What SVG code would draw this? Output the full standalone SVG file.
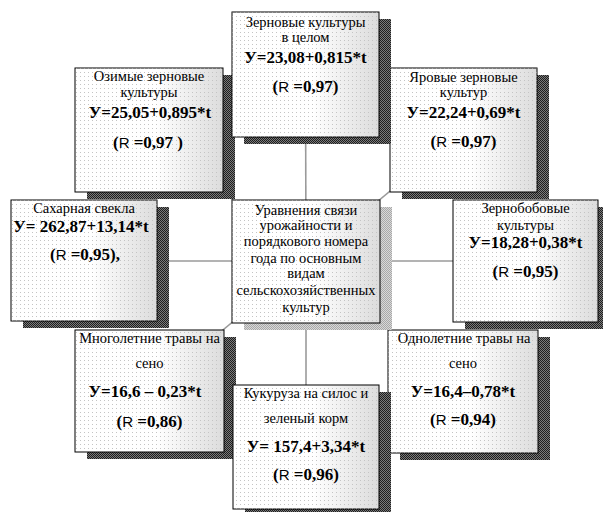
<svg xmlns="http://www.w3.org/2000/svg" width="603" height="512" viewBox="0 0 603 512">
<style>
.box{stroke:#000;stroke-width:1}
.bg{fill:url(#grad)}
.dots{fill:url(#dots);stroke:none}
.sh{fill:url(#chk)}
.shl{fill:url(#chkl)}
.t{font-family:'Liberation Serif','DejaVu Serif',serif;font-size:14.5px;text-anchor:middle;fill:#000}
.b{font-weight:bold;font-size:17px}
.r{font-family:'Liberation Sans','DejaVu Sans',sans-serif;font-weight:normal;font-size:15px}
.c{stroke:#9a9a9a;stroke-width:1.6;fill:none}
</style>
<defs>
<linearGradient id="grad" x1="0" y1="0" x2="1" y2="0">
<stop offset="0" stop-color="#ffffff"/>
<stop offset="0.55" stop-color="#ffffff"/>
<stop offset="1" stop-color="#dcdcdc"/>
</linearGradient>
<pattern id="dots" width="4" height="4" patternUnits="userSpaceOnUse">
<rect x="0" y="0" width="1" height="1" fill="#c4c4c4"/>
</pattern>
<pattern id="chk" width="2" height="2" patternUnits="userSpaceOnUse">
<rect width="2" height="2" fill="#7a7a7a"/>
<rect width="1" height="1" fill="#1e1e1e"/>
<rect x="1" y="1" width="1" height="1" fill="#1e1e1e"/>
</pattern>
<pattern id="chkl" width="2" height="2" patternUnits="userSpaceOnUse">
<rect width="2" height="2" fill="#d8d8d8"/>
<rect width="1" height="1" fill="#a8a8a8"/>
<rect x="1" y="1" width="1" height="1" fill="#a8a8a8"/>
</pattern>
</defs>
<rect width="603" height="512" fill="#fff"/>
<g id="connectors">
<line class="c" x1="306" y1="261" x2="305.5" y2="74"/>
<line class="c" x1="306" y1="261" x2="149" y2="130"/>
<line class="c" x1="306" y1="261" x2="463.5" y2="130"/>
<line class="c" x1="306" y1="261" x2="84" y2="261"/>
<line class="c" x1="306" y1="261" x2="525" y2="261"/>
<line class="c" x1="306" y1="261" x2="149.5" y2="391"/>
<line class="c" x1="306" y1="261" x2="463" y2="391"/>
<line class="c" x1="306" y1="261" x2="306" y2="447"/>
</g>
<g id="ozimye">
<rect class="sh" x="87" y="75" width="148" height="124"/>
<rect class="box bg" x="75" y="68" width="148" height="124"/>
<rect class="dots" x="75.5" y="68.5" width="147" height="123"/>
<text class="t" x="149" y="81">Озимые зерновые</text>
<text class="t" x="149" y="97">культуры</text>
<text class="t b" x="150" y="118">У=25,05+0,895*t</text>
<text class="t b" x="148" y="148">(<tspan class="r">R </tspan>=0,97 )</text>
</g>
<g id="yarovye">
<rect class="sh" x="402" y="75" width="147" height="124"/>
<rect class="box bg" x="390" y="68" width="147" height="124"/>
<rect class="dots" x="390.5" y="68.5" width="146" height="123"/>
<text class="t" x="463.5" y="82">Яровые зерновые</text>
<text class="t" x="463.5" y="97">культур</text>
<text class="t b" x="463.5" y="118">У=22,24+0,69*t</text>
<text class="t b" x="463.5" y="147">(<tspan class="r">R </tspan>=0,97)</text>
</g>
<g id="top">
<rect class="sh" x="244" y="19" width="147" height="125"/>
<rect class="box bg" x="232" y="12" width="147" height="125"/>
<rect class="dots" x="232.5" y="12.5" width="146" height="124"/>
<text class="t" x="305.5" y="27">Зерновые культуры</text>
<text class="t" x="305.5" y="42">в целом</text>
<text class="t b" x="305.5" y="63">У=23,08+0,815*t</text>
<text class="t b" x="305.5" y="92">(<tspan class="r">R </tspan>=0,97)</text>
</g>
<g id="sahar">
<rect class="sh" x="23" y="207" width="146" height="121"/>
<rect class="box bg" x="11" y="200" width="146" height="121"/>
<rect class="dots" x="11.5" y="200.5" width="145" height="120"/>
<text class="t" x="84" y="213">Сахарная свекла</text>
<text class="t b" x="81" y="232">У= 262,87+13,14*t</text>
<text class="t b" x="85" y="260">(<tspan class="r">R </tspan>=0,95),</text>
</g>
<g id="zernobob">
<rect class="sh" x="465" y="207" width="145" height="122"/>
<rect class="box bg" x="453" y="200" width="145" height="122"/>
<rect class="dots" x="453.5" y="200.5" width="144" height="121"/>
<text class="t" x="525.5" y="213">Зернобобовые</text>
<text class="t" x="525.5" y="230">культуры</text>
<text class="t b" x="525.5" y="248">У=18,28+0,38*t</text>
<text class="t b" x="525.5" y="277">(<tspan class="r">R </tspan>=0,95)</text>
</g>
<g id="mnogolet">
<rect class="sh" x="87" y="337" width="149" height="122"/>
<rect class="box bg" x="75" y="330" width="149" height="122"/>
<rect class="dots" x="75.5" y="330.5" width="148" height="121"/>
<text class="t" x="149.5" y="343">Многолетние травы на</text>
<text class="t" x="149.5" y="368">сено</text>
<text class="t b" x="145" y="397">У=16,6 – 0,23*t</text>
<text class="t b" x="149.5" y="427">(<tspan class="r">R </tspan>=0,86)</text>
</g>
<g id="odnolet">
<rect class="sh" x="400" y="337" width="150" height="123"/>
<rect class="box bg" x="388" y="330" width="150" height="123"/>
<rect class="dots" x="388.5" y="330.5" width="149" height="122"/>
<text class="t" x="464" y="343">Однолетние травы на</text>
<text class="t" x="463" y="368">сено</text>
<text class="t b" x="463" y="397">У=16,4–0,78*t</text>
<text class="t b" x="463" y="425">(<tspan class="r">R </tspan>=0,94)</text>
</g>
<g id="kukuruza">
<rect class="sh" x="245" y="392" width="146" height="124"/>
<rect class="box bg" x="233" y="385" width="146" height="124"/>
<rect class="dots" x="233.5" y="385.5" width="145" height="123"/>
<text class="t" x="306" y="398">Кукуруза на силос и</text>
<text class="t" x="306" y="423">зеленый корм</text>
<text class="t b" x="306" y="452">У= 157,4+3,34*t</text>
<text class="t b" x="306" y="480">(<tspan class="r">R </tspan>=0,96)</text>
</g>
<g id="center">
<rect class="shl" x="244" y="207" width="148" height="123"/>
<rect class="box bg" x="232" y="200" width="148" height="123"/>
<rect class="dots" x="232.5" y="200.5" width="147" height="122"/>
<text class="t" x="306" y="215">Уравнения связи</text>
<text class="t" x="306" y="230">урожайности и</text>
<text class="t" x="306" y="246">порядкового номера</text>
<text class="t" x="306" y="263">года по основным</text>
<text class="t" x="306" y="278">видам</text>
<text class="t" x="306" y="295">сельскохозяйственных</text>
<text class="t" x="306" y="312">культур</text>
</g>
</svg>
